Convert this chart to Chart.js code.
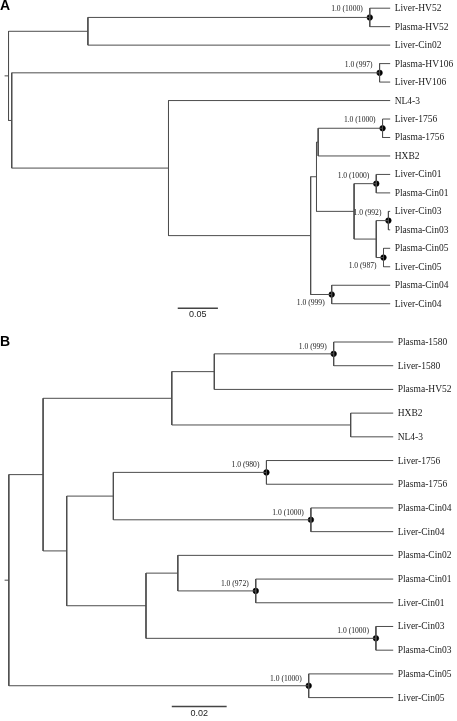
<!DOCTYPE html>
<html>
<head>
<meta charset="utf-8">
<script src="https://cdn.jsdelivr.net/npm/chart.js@4.4.1/dist/chart.umd.min.js"></script>
<style>
  body { margin: 0; background: #fff; }
  #wrap { position: relative; width: 457px; height: 721px; }
  canvas { position: absolute; left: 0; }
</style>
</head>
<body>
<div id="wrap">
  <canvas id="treeA" width="457" height="330" style="top:0"></canvas>
  <canvas id="treeB" width="457" height="396" style="top:325px"></canvas>
</div>
<script>
// ---- panel A data (depth from root, substitutions/site) ----
const leavesA = ["Liver-HV52", "Plasma-HV52", "Liver-Cin02", "Plasma-HV106", "Liver-HV106",
  "NL4-3", "Liver-1756", "Plasma-1756", "HXB2", "Liver-Cin01", "Plasma-Cin01", "Liver-Cin03",
  "Plasma-Cin03", "Plasma-Cin05", "Liver-Cin05", "Plasma-Cin04", "Liver-Cin04"];
const tipDepthA = 0.475;
const nodesA = ["root", "hc", "hv52", "big", "hv106", "rest", "q", "p2", "p1", "n1756",
  "cin", "c01", "c35", "c03", "c05", "c04"];
const depthsA = [0, 0.0988, 0.4496, 0.0040, 0.4618, 0.1991, 0.3760, 0.3833, 0.3854, 0.4655,
  0.4301, 0.4577, 0.4577, 0.4728, 0.4667, 0.4022];
const kidsA = [["hc", "big"], ["hv52", "Liver-Cin02"], ["Liver-HV52", "Plasma-HV52"],
  ["hv106", "rest"], ["Plasma-HV106", "Liver-HV106"], ["NL4-3", "q"], ["p2", "c04"],
  ["p1", "cin"], ["n1756", "HXB2"], ["Liver-1756", "Plasma-1756"], ["c01", "c35"],
  ["Liver-Cin01", "Plasma-Cin01"], ["c03", "c05"], ["Liver-Cin03", "Plasma-Cin03"],
  ["Plasma-Cin05", "Liver-Cin05"], ["Plasma-Cin04", "Liver-Cin04"]];
const supportNodesA = ["hv52", "hv106", "n1756", "c01", "c03", "c05", "c04"];
const supportTextA = ["1.0 (1000)", "1.0 (997)", "1.0 (1000)", "1.0 (1000)", "1.0 (992)", "1.0 (987)", "1.0 (999)"];
const labelBelowA = ["c05", "c04"];
const scaleBarA = 0.05;

// ---- panel B data ----
const leavesB = ["Plasma-1580", "Liver-1580", "Plasma-HV52", "HXB2", "NL4-3", "Liver-1756",
  "Plasma-1756", "Plasma-Cin04", "Liver-Cin04", "Plasma-Cin02", "Plasma-Cin01", "Liver-Cin01",
  "Liver-Cin03", "Plasma-Cin03", "Plasma-Cin05", "Liver-Cin05"];
const tipDepthB = 0.1401;
const nodesB = ["root", "b1", "b2", "b3", "n1580", "hn", "b4", "b5", "n1756", "c04",
  "b6", "b7", "c01", "c03", "c05"];
const depthsB = [0, 0.0125, 0.0594, 0.0749, 0.1184, 0.1246, 0.0211, 0.0381, 0.0939, 0.1101,
  0.0500, 0.0616, 0.0900, 0.1338, 0.1093];
const kidsB = [["b1", "c05"], ["b2", "b4"], ["b3", "hn"], ["n1580", "Plasma-HV52"],
  ["Plasma-1580", "Liver-1580"], ["HXB2", "NL4-3"], ["b5", "b6"], ["n1756", "c04"],
  ["Liver-1756", "Plasma-1756"], ["Plasma-Cin04", "Liver-Cin04"], ["b7", "c03"],
  ["Plasma-Cin02", "c01"], ["Plasma-Cin01", "Liver-Cin01"], ["Liver-Cin03", "Plasma-Cin03"],
  ["Plasma-Cin05", "Liver-Cin05"]];
const supportNodesB = ["n1580", "n1756", "c04", "c01", "c03", "c05"];
const supportTextB = ["1.0 (999)", "1.0 (980)", "1.0 (1000)", "1.0 (972)", "1.0 (1000)", "1.0 (1000)"];
const labelBelowB = [];
const scaleBarB = 0.02;

const lineColor = "#4d4d4d";

function layoutTree(leaves, nodes, depths, kids, tipDepth) {
  const pos = {};
  leaves.forEach((name, i) => { pos[name] = { x: tipDepth, y: i }; });

  function place(name) {
    if (pos[name]) return pos[name];
    const k = nodes.indexOf(name);
    const ys = kids[k].map(c => place(c).y);
    pos[name] = { x: depths[k], y: (Math.min(...ys) + Math.max(...ys)) / 2 };
    return pos[name];
  }
  place("root");

  const segs = [];
  nodes.forEach((name, k) => {
    const p = pos[name];
    const ys = kids[k].map(c => pos[c].y);
    segs.push({ x: p.x, y: Math.min(...ys) }, { x: p.x, y: Math.max(...ys) }, { x: null, y: null });
    kids[k].forEach(c => {
      segs.push({ x: p.x, y: pos[c].y }, { x: pos[c].x, y: pos[c].y }, { x: null, y: null });
    });
  });
  return { pos, segs };
}

const treeLabels = {
  id: "treeLabels",
  afterDatasetsDraw(chart, args, o) {
    const ctx = chart.ctx;
    const xs = chart.scales.x;
    const ys = chart.scales.y;
    ctx.save();

    // panel letter
    ctx.fillStyle = "#000";
    ctx.font = "bold 14px 'Liberation Sans', Arial, sans-serif";
    ctx.textBaseline = "middle";
    ctx.textAlign = "left";
    ctx.fillText(o.letter, 0, o.letterY);

    // tip names
    ctx.fillStyle = "#1a1a1a";
    ctx.font = "9.5px 'Liberation Serif', 'Times New Roman', serif";
    o.leaves.forEach(name => {
      const p = o.pos[name];
      ctx.fillText(name, xs.getPixelForValue(p.x) + 4.5, ys.getPixelForValue(p.y) + 0.5);
    });

    // support values
    ctx.font = "7.6px 'Liberation Serif', 'Times New Roman', serif";
    ctx.textAlign = "right";
    o.supportNodes.forEach((name, i) => {
      const p = o.pos[name];
      const below = o.below.includes(name);
      ctx.fillText(o.supportText[i], xs.getPixelForValue(p.x) - 7,
        ys.getPixelForValue(p.y) + (below ? o.belowDy : o.aboveDy));
    });

    // scale bar
    const x1 = xs.getPixelForValue(o.barStart);
    const x2 = xs.getPixelForValue(o.barStart + o.barLen);
    const yb = ys.getPixelForValue(o.barRow);
    ctx.strokeStyle = "#444";
    ctx.lineWidth = 1.5;
    ctx.beginPath();
    ctx.moveTo(x1, yb);
    ctx.lineTo(x2, yb);
    ctx.stroke();
    ctx.fillStyle = "#222";
    ctx.font = "9px 'Liberation Sans', Arial, sans-serif";
    ctx.textAlign = "center";
    ctx.fillText(String(o.barLen), (x1 + x2) / 2, yb + o.barTextDy);

    ctx.restore();
  }
};

function drawTree(canvasId, t, cfg) {
  const tree = layoutTree(t.leaves, t.nodes, t.depths, t.kids, t.tipDepth);
  const rootY = tree.pos.root.y;
  const stub = [{ x: cfg.xMin, y: rootY }, { x: 0, y: rootY }];
  const dots = t.supportNodes.map(n => tree.pos[n]);

  new Chart(document.getElementById(canvasId), {
    type: "scatter",
    data: {
      datasets: [{
        data: stub.concat([{ x: null, y: null }], tree.segs),
        showLine: true,
        spanGaps: false,
        borderColor: lineColor,
        borderWidth: 1,
        pointRadius: 0,
        clip: false
      }, {
        data: dots,
        showLine: false,
        pointRadius: 2.8,
        backgroundColor: "#000",
        borderColor: "#000",
        pointBackgroundColor: "#000",
        pointBorderColor: "#000",
        pointBorderWidth: 0.6
      }]
    },
    options: {
      responsive: false,
      animation: false,
      layout: { padding: 0 },
      plugins: {
        legend: { display: false },
        tooltip: { enabled: false },
        treeLabels: {
          letter: cfg.letter, letterY: cfg.letterY,
          leaves: t.leaves, pos: tree.pos,
          supportNodes: t.supportNodes, supportText: t.supportText, below: t.below,
          aboveDy: cfg.aboveDy, belowDy: cfg.belowDy,
          barStart: cfg.barStart, barLen: t.scaleBar, barRow: cfg.barRow, barTextDy: cfg.barTextDy
        }
      },
      scales: {
        x: { type: "linear", display: false, min: cfg.xMin, max: cfg.xMax },
        y: { type: "linear", display: false, reverse: true, min: cfg.yMin, max: cfg.yMax }
      }
    },
    plugins: [treeLabels]
  });
}

// panel A: 820 px per unit, root at 4 px, rows 19 px apart starting at 3.7 px
drawTree("treeA", {
  leaves: leavesA, nodes: nodesA, depths: depthsA, kids: kidsA, tipDepth: tipDepthA,
  supportNodes: supportNodesA, supportText: supportTextA, below: labelBelowA, scaleBar: scaleBarA
}, {
  letter: "A", letterY: 6.5,
  xMin: -4 / 820, xMax: 453 / 820,
  yMin: -3.7 / 19, yMax: (330 - 3.7) / 19,
  aboveDy: -8, belowDy: 8.5,
  barStart: 0.2106, barRow: 16.24, barTextDy: 6.5
});

// panel B: 2800 px per unit, root at 4.3 px, rows 24.27 px apart starting at 12.7 px
drawTree("treeB", {
  leaves: leavesB, nodes: nodesB, depths: depthsB, kids: kidsB, tipDepth: tipDepthB,
  supportNodes: supportNodesB, supportText: supportTextB, below: labelBelowB, scaleBar: scaleBarB
}, {
  letter: "B", letterY: 17,
  xMin: -4.3 / 2800, xMax: 452.7 / 2800,
  yMin: -12.7 / 24.27, yMax: (396 - 12.7) / 24.27,
  aboveDy: -7, belowDy: 8,
  barStart: 0.0594, barRow: 15.38, barTextDy: 6.8
});
</script>
</body>
</html>
